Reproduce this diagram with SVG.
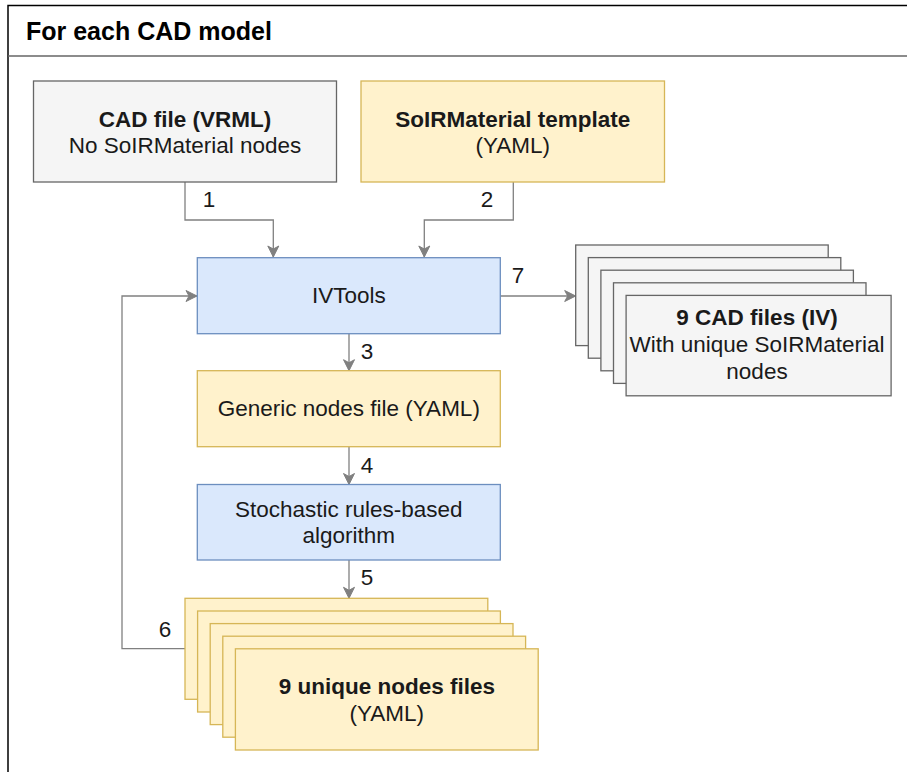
<svg xmlns="http://www.w3.org/2000/svg" width="907" height="772" viewBox="0 0 907 772">
  <style>
    text { font-family: "Liberation Sans", Arial, sans-serif; font-size: 22.5px; fill: #1a1a1a; }
    .b { font-weight: bold; }
    .c { text-anchor: middle; }
    .title { font-size: 25px; font-weight: bold; fill: #000; }
    .gray { fill: #f5f5f5; stroke: #666666; stroke-width: 1.3; }
    .yellow { fill: #fff2cc; stroke: #d6b656; stroke-width: 1.3; }
    .blue { fill: #dae8fc; stroke: #6c8ebf; stroke-width: 1.3; }
    .edge { fill: none; stroke: #808080; stroke-width: 1.3; }
    .lbl { text-anchor: middle; }
  </style>
  <defs>
    <marker id="arrow" viewBox="-12 -7 14 14" refX="0" refY="0" markerWidth="14" markerHeight="14" markerUnits="userSpaceOnUse" orient="auto">
      <path d="M0,0 L-11,-5.5 L-8,0 L-11,5.5 Z" fill="#808080" stroke="#808080" stroke-width="1"/>
    </marker>
  </defs>

  <rect width="907" height="772" fill="#ffffff"/>

  <!-- swimlane container -->
  <g id="container">
    <path d="M8,772 V5.5 H907" fill="none" stroke="#000" stroke-width="1.5"/>
    <path d="M8,56 H907" fill="none" stroke="#666666" stroke-width="1.3"/>
    <text class="title" x="26" y="40">For each CAD model</text>
  </g>

  <!-- connectors -->
  <g id="connectors">
    <path class="edge" d="M185,182 V220 H273.3 V257" marker-end="url(#arrow)"/>
    <path class="edge" d="M513.3,182 V220 H424.3 V257" marker-end="url(#arrow)"/>
    <path class="edge" d="M349,333.7 V370.7" marker-end="url(#arrow)"/>
    <path class="edge" d="M349,447 V484.5" marker-end="url(#arrow)"/>
    <path class="edge" d="M349,560 V598.3" marker-end="url(#arrow)"/>
    <path class="edge" d="M185,648.7 H122 V296 H197" marker-end="url(#arrow)"/>
    <path class="edge" d="M500.3,296 H575.7" marker-end="url(#arrow)"/>
    <text class="lbl" x="209" y="207">1</text>
    <text class="lbl" x="487" y="207">2</text>
    <text class="lbl" x="367" y="359">3</text>
    <text class="lbl" x="367" y="472.5">4</text>
    <text class="lbl" x="367" y="585">5</text>
    <text class="lbl" x="165" y="636.5">6</text>
    <text class="lbl" x="518" y="283">7</text>
  </g>

  <!-- nodes -->
  <g id="cad-file">
    <rect class="gray" x="33.5" y="81" width="303" height="101"/>
    <text class="c b" x="185" y="126.7">CAD file (VRML)</text>
    <text class="c" x="185" y="152.7">No SoIRMaterial nodes</text>
  </g>

  <g id="material-template">
    <rect class="yellow" x="361" y="81" width="303.5" height="101"/>
    <text class="c b" x="512.8" y="126.7">SoIRMaterial template</text>
    <text class="c" x="512.8" y="152.7">(YAML)</text>
  </g>

  <g id="ivtools">
    <rect class="blue" x="197.3" y="257.7" width="303" height="76"/>
    <text class="c" x="348.8" y="302.7">IVTools</text>
  </g>

  <g id="generic-nodes">
    <rect class="yellow" x="197.3" y="370.7" width="303" height="76"/>
    <text class="c" x="348.8" y="416.3">Generic nodes file (YAML)</text>
  </g>

  <g id="stochastic">
    <rect class="blue" x="197.3" y="484.5" width="303" height="75.5"/>
    <text class="c" x="348.8" y="516.7">Stochastic rules-based</text>
    <text class="c" x="348.8" y="543.3">algorithm</text>
  </g>

  <g id="cad-files-iv">
    <rect class="gray" x="575.7" y="245" width="252.5" height="100.6"/>
    <rect class="gray" x="588.3" y="257.6" width="252.5" height="100.6"/>
    <rect class="gray" x="600.9" y="270.2" width="252.5" height="100.6"/>
    <rect class="gray" x="613.5" y="282.8" width="252.5" height="100.6"/>
    <rect class="gray" x="626.1" y="295.4" width="265" height="100.4"/>
    <text class="c b" x="757" y="325">9 CAD files (IV)</text>
    <text class="c" x="757" y="352">With unique SoIRMaterial</text>
    <text class="c" x="757" y="379">nodes</text>
  </g>

  <g id="unique-nodes">
    <rect class="yellow" x="185" y="598.3" width="302.8" height="101"/>
    <rect class="yellow" x="197.6" y="611" width="302.8" height="101"/>
    <rect class="yellow" x="210.2" y="623.6" width="302.8" height="101"/>
    <rect class="yellow" x="222.8" y="636.2" width="302.8" height="101"/>
    <rect class="yellow" x="235.4" y="648.8" width="302.8" height="101.2"/>
    <text class="c b" x="386.8" y="693.5">9 unique nodes files</text>
    <text class="c" x="386.8" y="720.8">(YAML)</text>
  </g>
</svg>
